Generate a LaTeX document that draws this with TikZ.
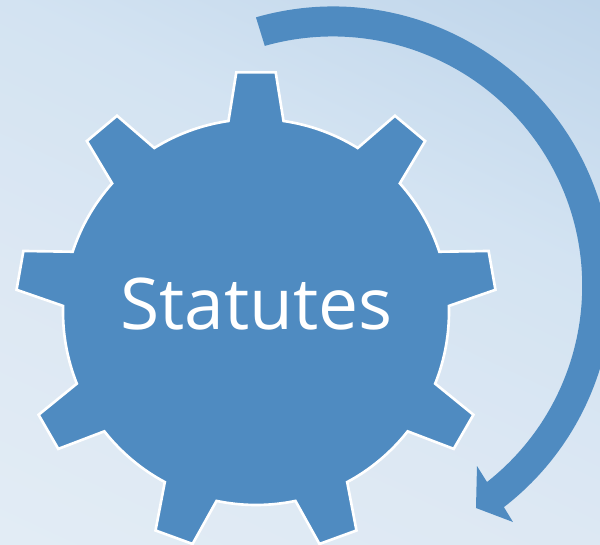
\documentclass[tikz,border=0pt]{standalone}
\usepackage{fontspec}
\setmainfont{Open Sans}
\definecolor{gearblue}{HTML}{4F8BC1}
\definecolor{backa}{HTML}{E2ECF5}
\definecolor{backb}{HTML}{DDE8F3}
\definecolor{backc}{HTML}{D3E3F2}
\definecolor{backd}{HTML}{BFD5EA}
\pgfdeclareverticalshading{backfade}{100bp}{color(0bp)=(backa); color(17bp)=(backa);
  color(39bp)=(backb); color(61bp)=(backc); color(83bp)=(backd); color(100bp)=(backd)}
\tikzset{
every picture/.style={
line width=1.5pt
}}
\usetikzlibrary{calc}

\begin{document}
\begin{tikzpicture}[x=0.02cm, y=-0.02cm]
      \useasboundingbox (0,0) rectangle (600,545);
      \shade [shading=backfade, shading angle=-25] (0,0) rectangle (600,545);
      \coordinate (gear) at (256,312);
      \coordinate (turn) at (333,286);
      \clip (0,0) rectangle (600,545);
      % gear with nine teeth
      \draw [white, fill=gearblue, line join=miter] ($(gear)+(-98.2:193)$)
      \foreach \a in {-90,-50,...,230} {
        -- ($(gear)+(\a-8.2:193)$) -- ($(gear)+(\a-4.7:240.5)$)
        -- ($(gear)+(\a+4.7:240.5)$) -- ($(gear)+(\a+8.2:193)$)
        arc (\a+8.2:\a+31.8:193)
      } -- cycle;
      % round arrow
      \fill [gearblue] ($(turn)+(-106:279.5)$) arc (-106:52.3:279.5)
      -- (513,522) -- (476,508) -- (477,466) -- (487,482)
      arc (51.8:-105.8:249.5) -- cycle;
      \node [white, font=\fontsize{40.6}{48}\selectfont] (statutes) at (256.5,304) {Statutes};
    \end{tikzpicture}
\end{document}
